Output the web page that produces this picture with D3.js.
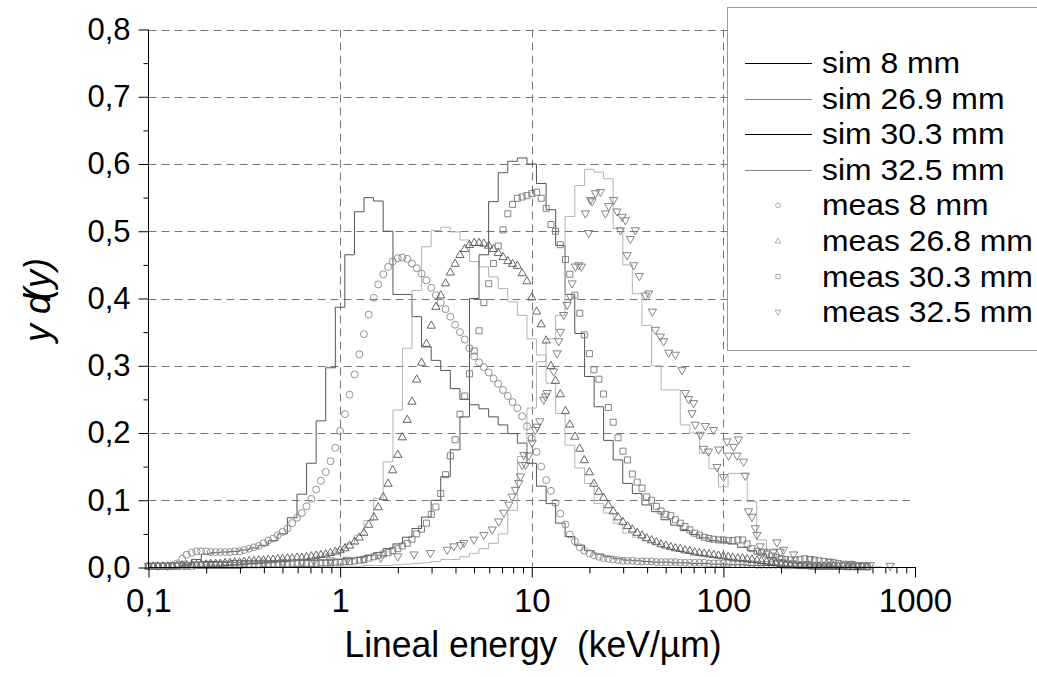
<!DOCTYPE html>
<html>
<head>
<meta charset="utf-8">
<script src="https://cdn.jsdelivr.net/npm/d3@7"></script>
<style>
  body { margin: 0; background: #fff; }
  svg { display: block; }
  text { font-family: "Liberation Sans", Arial, sans-serif; fill: #000; }
</style>
</head>
<body>
<svg id="chart" width="1037" height="677"></svg>
<script>
// ---- Simulated spectra: histogram bins (20 per decade), bin centres in keV/um ----
const simE = [0.1,0.112,0.126,0.141,0.158,0.178,0.2,0.224,0.251,0.282,0.316,0.355,0.398,0.447,0.501,0.562,0.631,0.708,0.794,0.891,
  1,1.12,1.26,1.41,1.58,1.78,2,2.24,2.51,2.82,3.16,3.55,3.98,4.47,5.01,5.62,6.31,7.08,7.94,8.91,
  10,11.2,12.6,14.1,15.8,17.8,20,22.4,25.1,28.2,31.6,35.5,39.8,44.7,50.1,56.2,63.1,70.8,79.4,89.1,
  100,112,126,141,158,178,200,224,251,282,316,355,398,447,501,562,631,708,794,891,1000];

const sim8 = [0,0,0,0,0.003,0.012,0.020,0.022,0.023,0.024,0.026,0.029,0.033,0.040,0.050,0.074,0.109,0.155,0.218,0.297,
  0.387,0.465,0.529,0.550,0.545,0.500,0.406,0.406,0.373,0.328,0.308,0.293,0.266,0.250,0.242,0.236,0.224,0.212,0.199,0.185,
  0.155,0.121,0.095,0.066,0.046,0.033,0.025,0.020,0.016,0.013,0.011,0.010,0.009,0.008,0.008,0.007,0.007,0.006,0.006,0.005,
  0.005,0.004,0.004,0.003,0.003,0.003,0.002,0.002,0.002,0.001,0.001,0.001,0.001,0,0,0,0,0,0,0,0];

const sim269 = [0,0,0,0,0.002,0.004,0.004,0.004,0.004,0.004,0.005,0.005,0.006,0.007,0.008,0.010,0.012,0.014,0.017,0.021,
  0.027,0.035,0.048,0.070,0.103,0.157,0.234,0.326,0.412,0.477,0.501,0.506,0.499,0.487,0.455,0.447,0.432,0.415,0.395,0.375,
  0.340,0.316,0.274,0.229,0.182,0.148,0.125,0.095,0.081,0.066,0.051,0.045,0.040,0.035,0.030,0.026,0.023,0.020,0.018,0.016,
  0.014,0.012,0.010,0.008,0.006,0.005,0.004,0.003,0.002,0.002,0.001,0.001,0.001,0,0,0,0,0,0,0,0];

const sim303 = [0,0,0,0,0.004,0.008,0.009,0.009,0.009,0.010,0.010,0.010,0.010,0.010,0.010,0.011,0.011,0.011,0.011,0.011,
  0.012,0.013,0.015,0.018,0.022,0.028,0.035,0.045,0.058,0.075,0.100,0.135,0.175,0.224,0.400,0.465,0.544,0.587,0.604,0.609,
  0.600,0.571,0.532,0.479,0.406,0.348,0.284,0.239,0.189,0.160,0.125,0.110,0.093,0.083,0.071,0.063,0.055,0.049,0.044,0.040,
  0.038,0.035,0.030,0.025,0.020,0.015,0.011,0.008,0.006,0.004,0.003,0.002,0.002,0.001,0.001,0,0,0,0,0,0];

const sim325 = [0,0,0,0,0.001,0.001,0.001,0.001,0.001,0.001,0.001,0.001,0.001,0.001,0.001,0.002,0.002,0.002,0.002,0.002,
  0.002,0.002,0.002,0.003,0.003,0.003,0.004,0.005,0.006,0.007,0.009,0.012,0.012,0.016,0.021,0.028,0.036,0.050,0.085,0.165,
  0.237,0.306,0.340,0.375,0.522,0.568,0.592,0.588,0.578,0.504,0.450,0.407,0.360,0.300,0.264,0.264,0.212,0.200,0.170,0.147,
  0.120,0.140,0.140,0.098,0.041,0.026,0.016,0.010,0.007,0.005,0.004,0.003,0.002,0.002,0.001,0.001,0.001,0,0,0,0];

// ---- Measured spectra: 40 points per decade, lineal energy in keV/um ----
const measE = [0.1,0.106,0.112,0.119,0.126,0.133,0.141,0.15,0.158,0.168,0.178,0.188,0.2,0.211,0.224,0.237,0.251,0.266,0.282,0.299,
  0.316,0.335,0.355,0.376,0.398,0.422,0.447,0.473,0.501,0.531,0.562,0.596,0.631,0.668,0.708,0.75,0.794,0.841,0.891,0.944,
  1,1.06,1.12,1.19,1.26,1.33,1.41,1.5,1.58,1.68,1.78,1.88,2,2.11,2.24,2.37,2.51,2.66,2.82,2.99,
  3.16,3.35,3.55,3.76,3.98,4.22,4.47,4.73,5.01,5.31,5.62,5.96,6.31,6.68,7.08,7.5,7.94,8.41,8.91,9.44,
  10,10.6,11.2,11.9,12.6,13.3,14.1,15,15.8,16.8,17.8,18.8,20,21.1,22.4,23.7,25.1,26.6,28.2,29.9,
  31.6,33.5,35.5,37.6,39.8,42.2,44.7,47.3,50.1,53.1,56.2,59.6,63.1,66.8,70.8,75,79.4,84.1,89.1,94.4,
  100,106,112,119,126,133,141,150,158,168,178,188,200,211,224,237,251,266,282,299,
  316,335,355,376,398,422,447,473,501,531,562,596,631,668,708,750,794,841,891,944,1000];

const meas8 = [0.002,0.002,0.002,0.002,0.002,0.003,0.006,0.013,0.019,0.022,0.024,0.024,0.024,0.023,0.023,0.023,0.023,0.023,0.024,0.024,
  0.026,0.028,0.030,0.032,0.036,0.040,0.043,0.048,0.053,0.058,0.066,0.074,0.081,0.091,0.102,0.116,0.129,0.142,0.158,0.178,
  0.203,0.228,0.257,0.287,0.317,0.347,0.376,0.401,0.421,0.436,0.447,0.455,0.460,0.461,0.459,0.452,0.445,0.437,0.427,0.416,
  0.405,0.394,0.384,0.373,0.361,0.350,0.339,0.326,0.314,0.305,0.298,0.290,0.281,0.273,0.264,0.255,0.246,0.237,0.225,0.210,
  0.192,0.172,0.150,0.130,0.114,0.096,0.080,0.064,0.049,0.039,0.030,0.025,0.021,0.018,0.016,0.014,0.013,0.012,0.011,0.010,
  0.010,0.010,0.009,0.009,0.009,0.009,0.008,0.008,0.008,0.008,0.008,0.007,0.007,0.007,0.007,0.007,0.007,0.006,0.006,0.006,
  0.006,0.006,0.005,0.005,0.005,0.005,0.005,0.004,0.004,0.004,0.004,0.004,0.004,0.003,0.003,0.003,0.003,0.003,0.002,0.002,
  0.002,0.002,0.002,0.002,0.002,0.002,0.002,0.002,0.002,0.002,0.001];

const meas268 = [0.002,0.002,0.002,0.002,0.002,0.002,0.003,0.004,0.004,0.004,0.004,0.005,0.005,0.006,0.006,0.006,0.007,0.007,0.008,0.008,
  0.009,0.010,0.010,0.011,0.011,0.012,0.012,0.013,0.013,0.014,0.014,0.015,0.015,0.016,0.017,0.018,0.019,0.020,0.022,0.024,
  0.026,0.029,0.033,0.039,0.045,0.052,0.064,0.075,0.090,0.105,0.125,0.145,0.168,0.194,0.220,0.247,0.280,0.305,0.333,0.360,
  0.388,0.405,0.423,0.439,0.452,0.465,0.474,0.480,0.483,0.483,0.482,0.479,0.474,0.468,0.462,0.456,0.452,0.449,0.438,0.426,
  0.402,0.381,0.362,0.338,0.300,0.278,0.258,0.233,0.213,0.195,0.177,0.160,0.142,0.125,0.113,0.104,0.093,0.084,0.075,0.068,
  0.062,0.057,0.052,0.048,0.044,0.041,0.038,0.035,0.033,0.031,0.029,0.028,0.026,0.025,0.023,0.022,0.021,0.020,0.019,0.018,
  0.017,0.016,0.015,0.014,0.014,0.013,0.012,0.011,0.010,0.009,0.008,0.007,0.006,0.005,0.004,0.004,0.003,0.003,0.003,0.002,
  0.002,0.002,0.002,0.002,0.002,0.002,0.001,0.001,0.001,0.001,0.001];

const meas303 = [0.002,0.002,0.002,0.002,0.002,0.002,0.002,0.002,0.002,0.002,0.003,0.003,0.003,0.003,0.003,0.003,0.003,0.003,0.003,0.003,
  0.004,0.004,0.004,0.004,0.005,0.005,0.005,0.005,0.005,0.005,0.006,0.006,0.006,0.006,0.006,0.006,0.007,0.007,0.007,0.008,
  0.008,0.009,0.009,0.010,0.011,0.012,0.014,0.016,0.018,0.020,0.022,0.025,0.028,0.032,0.036,0.042,0.050,0.057,0.066,0.079,
  0.090,0.110,0.138,0.166,0.190,0.228,0.255,0.288,0.322,0.352,0.394,0.422,0.452,0.478,0.502,0.526,0.540,0.549,0.551,0.553,
  0.556,0.558,0.549,0.534,0.510,0.500,0.480,0.458,0.436,0.405,0.378,0.346,0.318,0.294,0.280,0.258,0.238,0.216,0.193,0.173,
  0.160,0.139,0.127,0.118,0.105,0.100,0.091,0.084,0.079,0.077,0.071,0.066,0.061,0.056,0.051,0.048,0.045,0.043,0.042,0.041,
  0.041,0.040,0.040,0.041,0.041,0.035,0.028,0.024,0.022,0.020,0.017,0.015,0.013,0.012,0.011,0.011,0.012,0.013,0.012,0.011,
  0.010,0.009,0.008,0.007,0.006,0.005,0.004,0.004,0.003,0.003,0.002];

// 32.5 mm run: noisier, listed as [lineal energy, y d(y)] pairs
const meas325 = [[0.1,0.002],[0.112,0.002],[0.126,0.002],[0.141,0.003],[0.158,0.003],[0.2,0.004],[0.251,0.005],[0.316,0.006],
  [0.398,0.007],[0.501,0.008],[0.631,0.008],[0.73,0.009],[0.891,0.010],[1.09,0.011],[1.33,0.012],[1.63,0.014],[2.0,0.016],
  [2.43,0.019],[2.96,0.021],[3.62,0.026],[3.92,0.031],[4.25,0.033],[4.42,0.036],[4.99,0.041],[5.62,0.048],[6.22,0.056],
  [6.73,0.068],[7.15,0.081],[7.59,0.093],[7.9,0.105],[8.22,0.115],[8.55,0.125],[8.73,0.135],[8.91,0.152],[9.09,0.167],
  [9.27,0.152],[9.65,0.166],[10.05,0.185],[10.45,0.204],[10.67,0.209],[11.01,0.217],[11.55,0.249],[11.79,0.254],[12.03,0.259],
  [13.02,0.291],[13.56,0.318],[13.83,0.336],[14.11,0.350],[14.69,0.375],[15.3,0.390],[15.92,0.402],[16.24,0.422],[16.9,0.447],
  [17.59,0.449],[18.16,0.447],[19.05,0.526],[19.83,0.497],[20.24,0.546],[20.65,0.544],[21.49,0.556],[22.81,0.558],[24.23,0.526],
  [25.21,0.537],[26.76,0.546],[27.88,0.529],[29.01,0.501],[29.6,0.521],[30.8,0.516],[31.43,0.464],[32.7,0.488],[34.02,0.449],
  [34.73,0.501],[36.43,0.433],[39.15,0.404],[40.74,0.407],[42.59,0.380],[44.16,0.353],[46.88,0.343],[48.77,0.336],[51.8,0.319],
  [56.14,0.316],[60.83,0.293],[63.29,0.259],[65.85,0.250],[68.59,0.229],[69.92,0.244],[71.37,0.212],[75.79,0.197],[78.86,0.176],
  [80.47,0.210],[83.72,0.172],[88.89,0.204],[92.59,0.149],[94.41,0.175],[100.2,0.134],[104.4,0.187],[106.4,0.166],[113,0.179],
  [117.8,0.166],[120,0.190],[127.4,0.157],[130.1,0.136],[135.3,0.083],[141,0.075],[146.7,0.058],[149.7,0.048],[155.7,0.031],
  [162,0.023],[182.7,0.023],[190.3,0.037],[198,0.023],[206,0.026],[232.3,0.019],[283.9,0.012],[360.9,0.008],[458.9,0.005],
  [583.4,0.003],[741.8,0.002]];

// ---- Axis ticks ----
const xMajor = [0.1, 1, 10, 100, 1000];
const xMajorLabels = ["0,1", "1", "10", "100", "1000"];
const yMajor = [0, 0.1, 0.2, 0.3, 0.4, 0.5, 0.6, 0.7, 0.8];
const yMajorLabels = ["0,0", "0,1", "0,2", "0,3", "0,4", "0,5", "0,6", "0,7", "0,8"];
const yMinor = [0.05, 0.15, 0.25, 0.35, 0.45, 0.55, 0.65, 0.75];
const xGrid = [1, 10, 100];
const yGrid = [0.1, 0.2, 0.3, 0.4, 0.5, 0.6, 0.7, 0.8];

// ---- Legend entries ----
const simNames = ["sim 8 mm", "sim 26.9 mm", "sim 30.3 mm", "sim 32.5 mm"];
const measNames = ["meas 8 mm", "meas 26.8 mm", "meas 30.3 mm", "meas 32.5 mm"];

// ---------------------------------------------------------------
const svg = d3.select("#chart");
const x = d3.scaleLog().domain([0.1, 1000]).range([148.5, 915]);
const y = d3.scaleLinear().domain([0, 0.8]).range([567.5, 29.5]);

const xMinor = [];
[0.1, 1, 10, 100].forEach(d => { for (let k = 2; k <= 9; k++) xMinor.push(d * k); });

// grid
const grid = svg.append("g").attr("stroke", "#777").attr("stroke-width", 1)
  .attr("stroke-dasharray", "8,5").attr("fill", "none");
grid.selectAll("line.h").data(yGrid).join("line")
  .attr("x1", x(0.1)).attr("x2", x(1000) - 5)
  .attr("y1", d => Math.round(y(d)) + 0.5).attr("y2", d => Math.round(y(d)) + 0.5);
grid.selectAll("line.v").data(xGrid).join("line")
  .attr("x1", d => Math.round(x(d)) + 0.5).attr("x2", d => Math.round(x(d)) + 0.5)
  .attr("y1", y(0.8)).attr("y2", y(0));

// simulated histograms (step lines)
const simSeries = [
  { name: simNames[0], v: sim8, color: "#555", legend: "#000" },
  { name: simNames[1], v: sim269, color: "#b4b4b4", legend: "#888" },
  { name: simNames[2], v: sim303, color: "#555", legend: "#000" },
  { name: simNames[3], v: sim325, color: "#b4b4b4", legend: "#888" }
];
const stepLine = d3.line().x(d => x(d[0])).y(d => y(d[1])).curve(d3.curveStep);
svg.append("g").selectAll("path").data(simSeries).join("path")
  .attr("fill", "none").attr("stroke", d => d.color).attr("stroke-width", 1)
  .attr("d", s => stepLine(simE.map((e, i) => [e, s.v[i]])));

// marker shapes
const shapes = {
  circle: s => { const r = 3.5 * s; return `M${-r},0a${r},${r} 0 1,0 ${2 * r},0a${r},${r} 0 1,0 ${-2 * r},0Z`; },
  up: s => `M0,${-4.4 * s}L${4.1 * s},${2.8 * s}L${-4.1 * s},${2.8 * s}Z`,
  square: s => `M${-3 * s},${-3 * s}h${6 * s}v${6 * s}h${-6 * s}Z`,
  down: s => `M0,${4.4 * s}L${4.1 * s},${-2.8 * s}L${-4.1 * s},${-2.8 * s}Z`
};

const measSeries = [
  { name: measNames[0], pts: meas8.map((v, i) => [measE[i], v]), shape: "circle", color: "#888" },
  { name: measNames[1], pts: meas268.map((v, i) => [measE[i], v]), shape: "up", color: "#555" },
  { name: measNames[2], pts: meas303.map((v, i) => [measE[i], v]), shape: "square", color: "#777" },
  { name: measNames[3], pts: meas325, shape: "down", color: "#777" }
];

measSeries.forEach(s => {
  svg.append("g").attr("fill", "none").attr("stroke", s.color).attr("stroke-width", 0.9)
    .selectAll("path").data(s.pts).join("path")
    .attr("transform", d => `translate(${x(d[0])},${y(d[1])})`)
    .attr("d", shapes[s.shape](1));
});

// axes
const fmtX = d => xMajorLabels[xMajor.indexOf(d)];
const fmtY = d => yMajorLabels[yMajor.indexOf(d)];

const gx = svg.append("g").attr("transform", "translate(0,567.5)")
  .call(d3.axisBottom(x).tickValues(xMajor).tickFormat(fmtX).tickSize(10).tickPadding(11));
svg.append("g").attr("transform", "translate(0,567.5)")
  .call(d3.axisBottom(x).tickValues(xMinor).tickFormat("").tickSize(6))
  .call(g => g.select(".domain").remove());
gx.select(".domain").attr("d", `M${x(0.1)},0H${x(1000) + 1}`);
gx.selectAll("text").attr("font-size", 33).attr("font-family", "Liberation Sans, Arial, sans-serif").attr("fill", "#000");

const gy = svg.append("g").attr("transform", "translate(148.5,0)")
  .call(d3.axisLeft(y).tickValues(yMajor).tickFormat(fmtY).tickSize(10).tickPadding(8));
svg.append("g").attr("transform", "translate(148.5,0)")
  .call(d3.axisLeft(y).tickValues(yMinor).tickFormat("").tickSize(5))
  .call(g => g.select(".domain").remove());
gy.select(".domain").attr("d", `M0,${y(0)}V${y(0.8)}`);
gy.selectAll("text").attr("font-size", 31).attr("font-family", "Liberation Sans, Arial, sans-serif").attr("fill", "#000");

svg.selectAll(".tick line, .domain").attr("stroke", "#000");

// axis titles
svg.append("text").attr("x", 533).attr("y", 657).attr("text-anchor", "middle")
  .attr("font-size", 37).attr("textLength", 377).attr("lengthAdjust", "spacingAndGlyphs")
  .style("white-space", "pre")
  .text("Lineal energy  (keV/µm)");

const yt = svg.append("text").attr("transform", "translate(50,300) rotate(-90)")
  .attr("text-anchor", "middle").attr("font-size", 36).attr("font-style", "italic");
yt.append("tspan").text("y d");
yt.append("tspan").attr("dx", -6).text("(y)");

// legend
const lg = svg.append("g");
lg.append("rect").attr("x", 727.5).attr("y", 7.5).attr("width", 330).attr("height", 343)
  .attr("fill", "#fff").attr("stroke", "#999").attr("stroke-width", 1);
const rowY = i => 63 + i * 35.6;
simSeries.forEach((s, i) => {
  const yy = Math.round(rowY(i)) + 0.5;
  lg.append("line").attr("x1", 745).attr("x2", 812).attr("y1", yy).attr("y2", yy)
    .attr("stroke", s.legend).attr("stroke-width", 1);
  lg.append("text").attr("transform", `translate(822,${rowY(i) + 10}) scale(1.1,1)`)
    .attr("font-size", 29).text(s.name);
});
measSeries.forEach((s, k) => {
  const i = k + 4;
  lg.append("path").attr("transform", `translate(778,${rowY(i)})`)
    .attr("d", shapes[s.shape](0.7)).attr("fill", "none").attr("stroke", "#999").attr("stroke-width", 0.8);
  lg.append("text").attr("transform", `translate(822,${rowY(i) + 10}) scale(1.1,1)`)
    .attr("font-size", 29).text(s.name);
});
</script>
</body>
</html>
